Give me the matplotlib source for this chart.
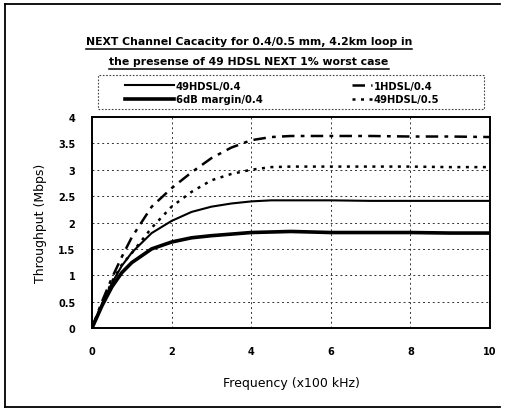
import matplotlib
matplotlib.use("Agg")
import matplotlib.pyplot as plt
from matplotlib.lines import Line2D
from matplotlib.patches import Rectangle

# ---- data ----
freq = [0, 0.25, 0.5, 0.75, 1, 1.5, 2, 2.5, 3, 3.5, 4, 4.5, 5, 6, 7, 8, 9, 10]
hdsl49_04 = [0, 0.45, 0.85, 1.18, 1.43, 1.8, 2.03, 2.2, 2.3, 2.36, 2.4, 2.42, 2.42, 2.42, 2.41, 2.41, 2.41, 2.41]
margin6_04 = [0, 0.42, 0.78, 1.05, 1.24, 1.5, 1.63, 1.71, 1.75, 1.78, 1.81, 1.82, 1.83, 1.81, 1.81, 1.81, 1.80, 1.80]
hdsl1_04 = [0, 0.5, 0.95, 1.35, 1.72, 2.3, 2.65, 2.95, 3.22, 3.42, 3.56, 3.62, 3.64, 3.64, 3.64, 3.63, 3.63, 3.62]
hdsl49_05 = [0, 0.45, 0.88, 1.2, 1.42, 1.9, 2.3, 2.58, 2.8, 2.92, 3.0, 3.05, 3.06, 3.06, 3.06, 3.06, 3.05, 3.05]
xticks = [0, 2, 4, 6, 8, 10]
yticks = [0, 0.5, 1, 1.5, 2, 2.5, 3, 3.5, 4]
ytick_labels = ["0", "0.5", "1", "1.5", "2", "2.5", "3", "3.5", "4"]
title_lines = ["NEXT Channel Cacacity for 0.4/0.5 mm, 4.2km loop in",
               "the presense of 49 HDSL NEXT 1% worst case"]

W, H = 505, 410
fig = plt.figure(figsize=(W / 100, H / 100), dpi=100)
fig.patch.set_facecolor("white")

def fx(px):
    return px / W

def fy(py):
    return 1 - py / H

ax = fig.add_axes([fx(92), fy(329), fx(490) - fx(92), fy(118) - fy(329)])

l1, = ax.plot(freq, hdsl49_04, color="black", lw=1.5, ls="-")
l2, = ax.plot(freq, margin6_04, color="black", lw=2.6, ls="-")
l3, = ax.plot(freq, hdsl1_04, color="black", lw=1.8, ls=(0, (5, 2.5, 1.5, 2.5)))
l4, = ax.plot(freq, hdsl49_05, color="black", lw=1.8, ls=(0, (1.2, 2.2)))

ax.set_xlim(0, 10)
ax.set_ylim(0, 4)
ax.set_xticks(xticks)
ax.set_yticks(yticks)
ax.set_yticklabels(ytick_labels)
ax.grid(True, color="#333333", ls=(0, (2, 3)), lw=0.7)
ax.tick_params(length=0, labelsize=7)
ax.tick_params(axis="x", pad=13)
ax.tick_params(axis="y", pad=12)
for lab in ax.get_xticklabels() + ax.get_yticklabels():
    lab.set_fontweight("bold")
for s in ax.spines.values():
    s.set_linewidth(1.4)
    s.set_color("black")

ax.set_xlabel("Frequency (x100 kHz)", fontsize=9, labelpad=14)
ax.set_ylabel("Throughput (Mbps)", fontsize=9, labelpad=8)

# legends
fig.legend([l1, l2], ["49HDSL/0.4", "6dB margin/0.4"], loc="center left",
           bbox_to_anchor=(fx(125), fy(93.5)), frameon=False,
           prop={"size": 7.2, "weight": "bold"},
           handlelength=4.9, handletextpad=0.15, labelspacing=0.35,
           borderpad=0, borderaxespad=0)
fig.legend([l3, l4], ["1HDSL/0.4", "49HDSL/0.5"], loc="center left",
           bbox_to_anchor=(fx(352), fy(93.5)), frameon=False,
           prop={"size": 7.2, "weight": "bold"},
           handlelength=2.0, handletextpad=0.15, labelspacing=0.35,
           borderpad=0, borderaxespad=0)
fig.add_artist(Rectangle((fx(98), fy(110)), fx(484) - fx(98), fy(76) - fy(110),
                         transform=fig.transFigure, fill=False, ec="#444444",
                         lw=0.8, ls=(0, (1.5, 1.5))))

# title with underline
fig.canvas.draw()
renderer = fig.canvas.get_renderer()
for i, (t, yc) in enumerate(zip(title_lines, [42, 62])):
    txt = fig.text(fx(249), fy(yc), t, ha="center", va="center",
                   fontsize=7.8, fontweight="bold")
    bb = txt.get_window_extent(renderer=renderer)
    x0, x1 = bb.x0 / W, bb.x1 / W
    yu = fy(yc + 8)
    fig.add_artist(Line2D([x0, x1], [yu, yu], transform=fig.transFigure,
                          color="black", lw=1.1))

# outer frame (left, top, bottom)
fig.add_artist(Line2D([fx(5), fx(5)], [fy(5), fy(408)], transform=fig.transFigure, color="black", lw=1.3))
fig.add_artist(Line2D([fx(5), fx(500)], [fy(5), fy(5)], transform=fig.transFigure, color="black", lw=1.3))
fig.add_artist(Line2D([fx(5), fx(500)], [fy(408), fy(408)], transform=fig.transFigure, color="black", lw=1.3))

fig.savefig("out.png", dpi=100, facecolor="white")
